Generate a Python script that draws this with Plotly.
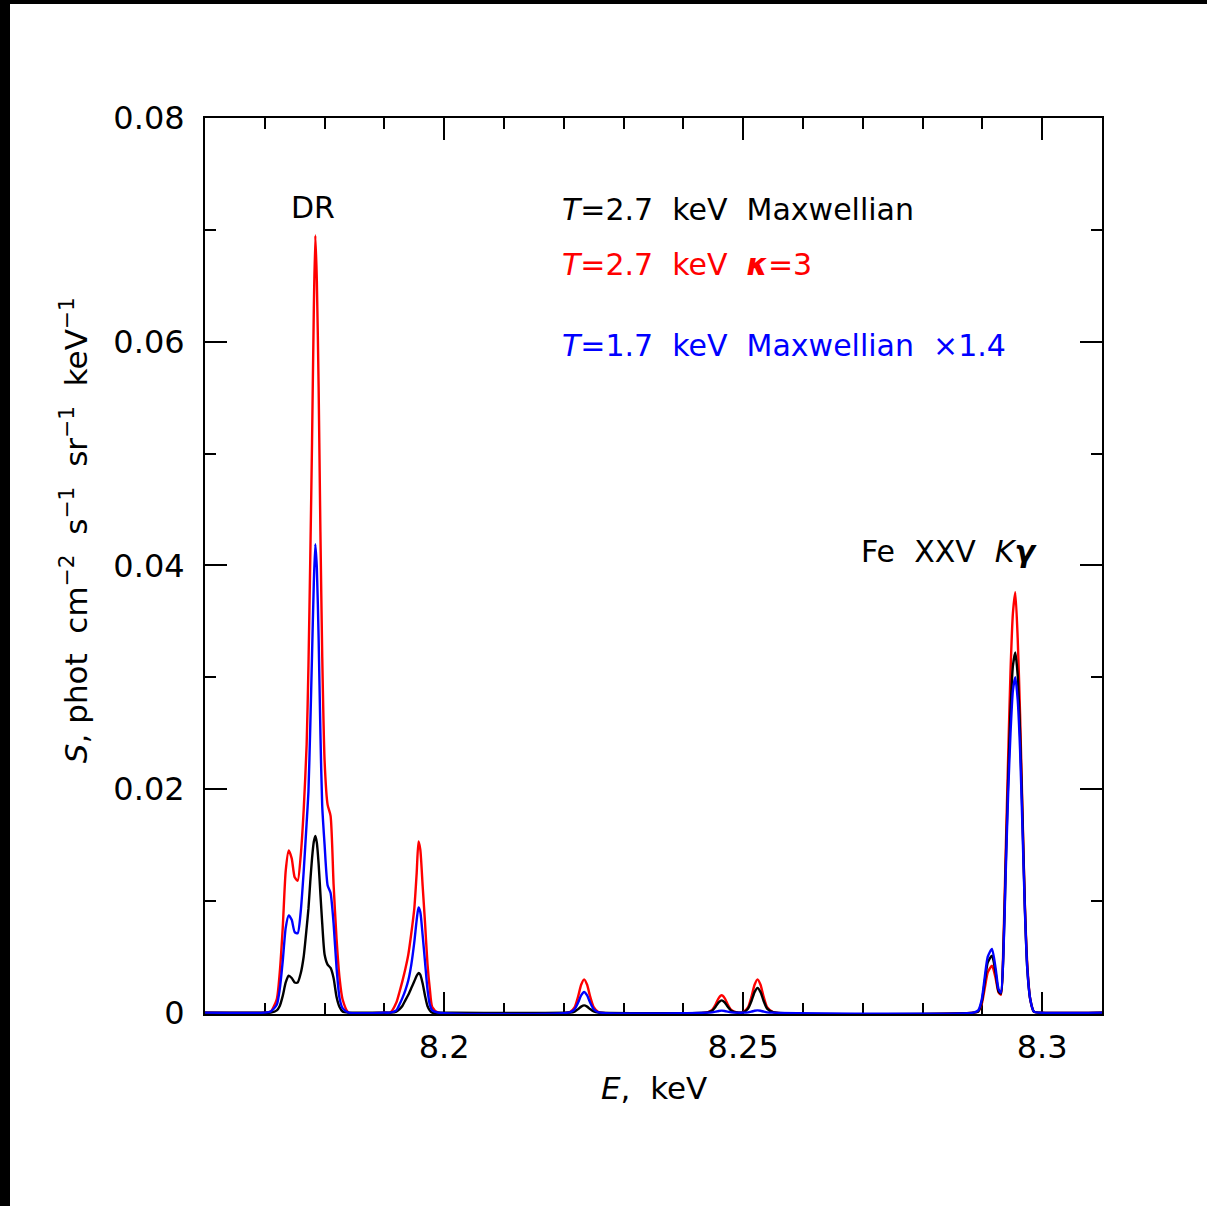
import plotly.graph_objects as go

# Photon energy grid (keV) and line-emission spectra S (phot cm^-2 s^-1 sr^-1 keV^-1)
# --- DR satellite complex near 8.178 keV
dr_E = [8.1600, 8.1700, 8.1710, 8.1720, 8.1725, 8.1730, 8.1735, 8.1740, 8.1745, 8.1750,
        8.1755, 8.1760, 8.1765, 8.1770, 8.1773, 8.1776, 8.1779, 8.1782, 8.17845,
        8.1787, 8.1790, 8.1793, 8.1796, 8.1800, 8.1805, 8.1810, 8.1815, 8.1820,
        8.1825, 8.1830, 8.1840]
dr_max27 = [0, 0, 0, 0.0002, 0.0006, 0.0015, 0.0027, 0.0033, 0.0031, 0.0027,
            0.0027, 0.0035, 0.0050, 0.0076, 0.0093, 0.0117, 0.0138, 0.0153, 0.0158,
            0.0152, 0.0133, 0.0106, 0.0080, 0.0052, 0.0043, 0.0040, 0.0031, 0.0014,
            0.0005, 0.0001, 0]
dr_kappa3 = [0, 0, 0.0001, 0.0012, 0.0036, 0.0076, 0.0127, 0.0145, 0.0138, 0.0121,
             0.0118, 0.0140, 0.0181, 0.0240, 0.0310, 0.0405, 0.0510, 0.0630, 0.0695,
             0.0655, 0.0560, 0.0430, 0.0320, 0.0225, 0.0186, 0.0176, 0.0115, 0.0066,
             0.0031, 0.0012, 0]
dr_max17 = [0, 0, 0.0001, 0.0007, 0.0021, 0.0046, 0.0076, 0.0087, 0.0083, 0.0072,
            0.0071, 0.0090, 0.0126, 0.0170, 0.0198, 0.0255, 0.0320, 0.0385, 0.0419,
            0.0398, 0.0335, 0.0250, 0.0185, 0.0150, 0.0114, 0.0107, 0.0080, 0.0040,
            0.0013, 0.0004, 0]

# --- line near 8.196 keV
l1_E = [8.1900, 8.1910, 8.1920, 8.1925, 8.1930, 8.1935, 8.1940, 8.1945, 8.1950,
        8.1954, 8.1957, 8.1960, 8.1964, 8.1968, 8.1972, 8.1976, 8.1980, 8.1990]
l1_max27 = [0, 0, 0.0001, 0.0003, 0.0006, 0.0011, 0.0016, 0.0022, 0.0028,
            0.0033, 0.00354, 0.0034, 0.0026, 0.0015, 0.0006, 0.0002, 0, 0]
l1_kappa3 = [0, 0, 0.0009, 0.0018, 0.0028, 0.0039, 0.0052, 0.0071, 0.0093,
             0.0125, 0.0153, 0.0146, 0.0113, 0.0080, 0.0044, 0.0021, 0.0005, 0]
l1_max17 = [0, 0, 0.0002, 0.0007, 0.0013, 0.0020, 0.0029, 0.0043, 0.0063,
            0.0083, 0.0094, 0.0090, 0.0069, 0.0045, 0.0021, 0.0007, 0.0002, 0]

# --- weak line near 8.223 keV
l2_E = [8.2210, 8.2218, 8.2224, 8.2229, 8.2234, 8.2239, 8.2244, 8.2250, 8.2258]
l2_max27 = [0.00001, 0.0001, 0.00032, 0.00054, 0.00065, 0.00054, 0.00032, 0.00011, 0.00001]
l2_kappa3 = [0.00005, 0.00047, 0.00145, 0.00249, 0.00298, 0.00249, 0.00145, 0.00049, 0.00005]
l2_max17 = [0.00003, 0.00029, 0.0009, 0.00154, 0.00185, 0.00154, 0.0009, 0.0003, 0.00003]

# --- weak pair near 8.246 / 8.252 keV
l3_E = [8.2440, 8.2448, 8.2454, 8.2459, 8.2464, 8.2469, 8.2474, 8.2480, 8.2490,
        8.2500, 8.2508, 8.2514, 8.2519, 8.2524, 8.2529, 8.2534, 8.2540, 8.2550]
l3_max27 = [0.00002, 0.00017, 0.00054, 0.00092, 0.0011, 0.00092, 0.00054, 0.00018, 0.00001,
            0.00003, 0.00035, 0.00107, 0.00184, 0.0022, 0.00184, 0.00107, 0.00036, 0.00004]
l3_kappa3 = [0.00003, 0.00024, 0.00075, 0.0013, 0.00155, 0.0013, 0.00075, 0.00025, 0.00001,
             0.00005, 0.00047, 0.00145, 0.00249, 0.00298, 0.00249, 0.00145, 0.00049, 0.00005]
l3_max17 = [0, 0.00003, 0.00009, 0.00015, 0.00018, 0.00015, 0.00009, 0.00003, 0,
            0, 0.00003, 0.0001, 0.00017, 0.0002, 0.00017, 0.0001, 0.00003, 0]

# --- Fe XXV K-gamma and its neighbour
fe_E = [8.2885, 8.2893, 8.2899, 8.2904, 8.2909, 8.2916, 8.2922, 8.2927, 8.2931,
        8.2935, 8.2939, 8.2943, 8.2947, 8.2951, 8.2955, 8.2959, 8.2963, 8.2967,
        8.2971, 8.2975, 8.2980, 8.2986, 8.2995, 8.3100]
fe_max27 = [0, 0.0001, 0.0010, 0.0028, 0.0045, 0.0051, 0.0036, 0.0019, 0.0017,
            0.0052, 0.0132, 0.0207, 0.0270, 0.0310, 0.0322, 0.0302, 0.0250, 0.0175,
            0.0095, 0.0040, 0.0012, 0.0001, 0, 0]
fe_kappa3 = [0, 0.0001, 0.0008, 0.0022, 0.0036, 0.0042, 0.0031, 0.0018, 0.0016,
             0.0059, 0.0144, 0.0227, 0.0305, 0.0357, 0.0376, 0.0335, 0.0267, 0.0180,
             0.0097, 0.0044, 0.0012, 0.0001, 0, 0]
fe_max17 = [0, 0.0002, 0.0012, 0.0032, 0.0050, 0.0057, 0.0040, 0.0021, 0.0018,
            0.0050, 0.0125, 0.0195, 0.0250, 0.0288, 0.0300, 0.0280, 0.0235, 0.0165,
            0.0092, 0.0040, 0.0012, 0.0001, 0, 0]

E = dr_E + l1_E + l2_E + l3_E + fe_E
S_max27 = dr_max27 + l1_max27 + l2_max27 + l3_max27 + fe_max27
S_kappa3 = dr_kappa3 + l1_kappa3 + l2_kappa3 + l3_kappa3 + fe_kappa3
S_max17 = dr_max17 + l1_max17 + l2_max17 + l3_max17 + fe_max17

x_tickvals = [8.2, 8.25, 8.3]
x_ticktext = ["8.2", "8.25", "8.3"]
y_tickvals = [0, 0.02, 0.04, 0.06, 0.08]
y_ticktext = ["0", "0.02", "0.04", "0.06", "0.08"]

FONT = "DejaVu Sans"
nb = "\u00a0"

fig = go.Figure()
for S, col in [(S_kappa3, "#ff0000"), (S_max27, "#000000"), (S_max17, "#0000ff")]:
    fig.add_trace(go.Scatter(x=E, y=S, mode="lines",
                             line=dict(color=col, width=2.4, shape="spline", smoothing=0.6),
                             showlegend=False, hoverinfo="skip"))

axis_common = dict(showline=True, linecolor="black", linewidth=2, mirror="allticks",
                   ticks="inside", ticklen=22, tickwidth=2, tickcolor="black",
                   showgrid=False, zeroline=False, layer="below traces",
                   tickfont=dict(family=FONT, size=32, color="black"))

fig.update_xaxes(range=[8.16, 8.31], tickvals=x_tickvals, ticktext=x_ticktext,
                 ticklabelstandoff=4,
                 minor=dict(dtick=0.01, tick0=8.16, ticks="inside", ticklen=11,
                            tickwidth=2, tickcolor="black", showgrid=False),
                 **axis_common)
fig.update_yaxes(range=[-0.00012, 0.08], tickvals=y_tickvals, ticktext=y_ticktext,
                 ticklabelstandoff=12,
                 minor=dict(dtick=0.01, tick0=0, ticks="inside", ticklen=11,
                            tickwidth=2, tickcolor="black", showgrid=False),
                 **axis_common)

def txt(x, y, s, color="black", anchor="left", size=30):
    fig.add_annotation(x=x, y=y, xref="x", yref="y", text=s, showarrow=False,
                       xanchor=anchor, yanchor="middle",
                       font=dict(family=FONT, size=size, color=color))

txt(8.1781, 0.0720, "DR", anchor="center")
txt(8.2193, 0.0718, f"<i>T</i>=2.7{nb}{nb}keV{nb}{nb}Maxwellian")
txt(8.2193, 0.0669, f"<i>T</i>=2.7{nb}{nb}keV{nb}{nb}<b><i>κ</i></b>=3", color="#ff0000")
txt(8.2193, 0.0597, f"<i>T</i>=1.7{nb}{nb}keV{nb}{nb}Maxwellian{nb}{nb}×1.4", color="#0000ff")
txt(8.2997, 0.0412, f"Fe{nb}{nb}XXV{nb}{nb}<i>K</i><b><i>γ</i></b>", anchor="right")

# axis titles
fig.add_annotation(x=-0.146, y=0.540, xref="paper", yref="paper", showarrow=False,
                   textangle=-90, xanchor="center", yanchor="middle",
                   text=(f"<i>S</i>,{nb}phot{nb}{nb}cm<sup>−2</sup>{nb}{nb}s<sup>−1</sup>"
                         f"{nb}{nb}sr<sup>−1</sup>{nb}{nb}keV<sup>−1</sup>"),
                   font=dict(family=FONT, size=31, color="black"))
fig.add_annotation(x=0.5, y=-0.083, xref="paper", yref="paper", showarrow=False,
                   xanchor="center", yanchor="middle", text=f"<i>E</i>,{nb}{nb}keV",
                   font=dict(family=FONT, size=31, color="black"))

# dark frame strips along the top and left page edges
W, H = 1207, 1206
L, R, T, B = 205, 105, 118, 192
pw, ph = W - L - R, H - T - B
def px2paper(px, py):
    return (px - L) / pw, (H - B - py) / ph
x0, y0 = px2paper(0, 0)
x1, y1 = px2paper(W, 4)
fig.add_shape(type="rect", xref="paper", yref="paper", x0=x0, x1=x1, y0=y1, y1=y0,
              fillcolor="black", line_width=0, layer="above")
x0, y0 = px2paper(0, 0)
x1, y1 = px2paper(10, H)
fig.add_shape(type="rect", xref="paper", yref="paper", x0=x0, x1=x1, y0=y1, y1=y0,
              fillcolor="black", line_width=0, layer="above")

fig.update_layout(width=W, height=H, margin=dict(l=L, r=R, t=T, b=B, pad=0),
                  paper_bgcolor="white", plot_bgcolor="white")

fig.write_html("out.html")
